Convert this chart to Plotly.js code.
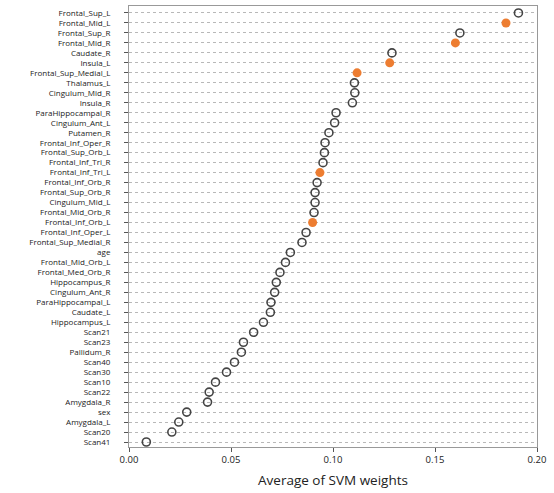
<!DOCTYPE html>
<html>
<head>
<meta charset="utf-8">
<script src="https://cdn.plot.ly/plotly-3.0.1.min.js"></script>
<style>html,body{margin:0;padding:0;background:#fff;}#chart{width:554px;height:493px;}</style>
</head>
<body>
<div id="chart"></div>
<script>
const categories = ["Frontal_Sup_L","Frontal_Mid_L","Frontal_Sup_R","Frontal_Mid_R","Caudate_R","Insula_L","Frontal_Sup_Medial_L","Thalamus_L","Cingulum_Mid_R","Insula_R","ParaHippocampal_R","Cingulum_Ant_L","Putamen_R","Frontal_Inf_Oper_R","Frontal_Sup_Orb_L","Frontal_Inf_Tri_R","Frontal_Inf_Tri_L","Frontal_Inf_Orb_R","Frontal_Sup_Orb_R","Cingulum_Mid_L","Frontal_Mid_Orb_R","Frontal_Inf_Orb_L","Frontal_Inf_Oper_L","Frontal_Sup_Medial_R","age","Frontal_Mid_Orb_L","Frontal_Med_Orb_R","Hippocampus_R","Cingulum_Ant_R","ParaHippocampal_L","Caudate_L","Hippocampus_L","Scan21","Scan23","Pallidum_R","Scan40","Scan30","Scan10","Scan22","Amygdala_R","sex","Amygdala_L","Scan20","Scan41"];
const weights = [0.1909,0.1848,0.1622,0.1600,0.1289,0.1278,0.1118,0.1105,0.1107,0.1095,0.1015,0.1008,0.0980,0.0961,0.0958,0.0951,0.0936,0.0922,0.0912,0.0912,0.0907,0.0900,0.0868,0.0848,0.0791,0.0767,0.0740,0.0722,0.0714,0.0696,0.0693,0.0659,0.0611,0.0561,0.0551,0.0517,0.0478,0.0424,0.0393,0.0385,0.0283,0.0244,0.0210,0.0085];
const highlighted = [0,1,0,1,0,1,1,0,0,0,0,0,0,0,0,0,1,0,0,0,0,1,0,0,0,0,0,0,0,0,0,0,0,0,0,0,0,0,0,0,0,0,0,0];
const xTicks = [0, 0.05, 0.10, 0.15, 0.20];
const xTickLabels = ["0.00","0.05","0.10","0.15","0.20"];

const pick = (arr, flag) => arr.filter((_, i) => highlighted[i] === flag);

const traces = [
  {
    type: "scatter", mode: "markers",
    x: pick(weights, 0), y: pick(categories, 0),
    marker: {symbol: "circle-open", size: 8, color: "#444", line: {width: 1.6, color: "#444"}},
    hoverinfo: "x+y", showlegend: false
  },
  {
    type: "scatter", mode: "markers",
    x: pick(weights, 1), y: pick(categories, 1),
    marker: {symbol: "circle", size: 9, color: "#ED7D31", line: {width: 0}},
    hoverinfo: "x+y", showlegend: false
  }
];

const layout = {
  width: 554, height: 493,
  margin: {l: 129, r: 17, t: 6, b: 46, pad: 0},
  paper_bgcolor: "#fff", plot_bgcolor: "#fff",
  font: {family: "Open Sans, sans-serif", color: "#222", size: 8},
  showlegend: false,
  xaxis: {
    range: [0, 0.2],
    tickvals: xTicks, ticktext: xTickLabels,
    ticks: "outside", ticklen: 4, tickcolor: "#555", tickwidth: 1,
    showgrid: false, zeroline: false,
    showline: true, linecolor: "#999", linewidth: 1, mirror: true,
    tickfont: {size: 9.5, color: "#222"},
    title: {text: "Average of SVM weights", font: {size: 13.5, color: "#222"}, standoff: 10}
  },
  yaxis: {
    type: "category",
    categoryorder: "array", categoryarray: categories,
    tickvals: categories, ticktext: categories,
    range: [43.5, -0.7],
    ticks: "outside", ticklen: 4, tickcolor: "#555", tickwidth: 1,
    showgrid: true, gridcolor: "#b8b8b8", griddash: "3px,3px", gridwidth: 1,
    zeroline: false,
    showline: true, linecolor: "#999", linewidth: 1, mirror: true,
    ticklabelstandoff: 12,
    tickfont: {size: 8, color: "#222"}
  }
};

Plotly.newPlot("chart", traces, layout, {displayModeBar: false, staticPlot: true});
</script>
</body>
</html>
